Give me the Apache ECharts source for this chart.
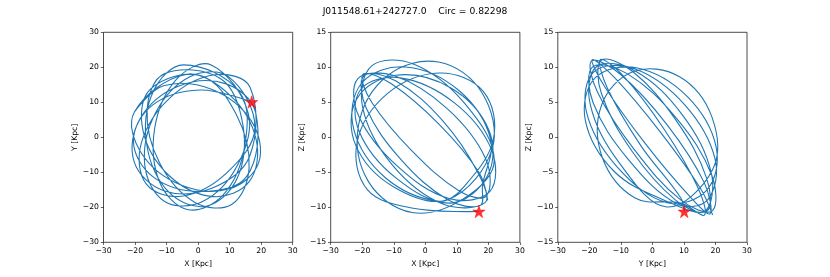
<!DOCTYPE html>
<html>
<head>
<meta charset="utf-8">
<script src="https://cdn.jsdelivr.net/npm/echarts@6/dist/echarts.min.js"></script>
<style>
html,body{margin:0;padding:0;background:#fff;}
#chart{width:830px;height:277px;}
</style>
</head>
<body>
<div id="chart"></div>
<script>
// ---- data ----
const titleText = 'J011548.61+242727.0    Circ = 0.82298';
const xTicks = [-30, -20, -10, 0, 10, 20, 30];
const zTicks = [-15, -10, -5, 0, 5, 10, 15];

// X-Y projection of the orbit [x, y] (kpc)
const orbitXY = [
  [16.9,10.1],[0.5,13.5],[-14.35,9.25],[-20.5,-1],[-14.35,-11.25],[0.5,-15.5],[15.35,-11.25],
  [18.27,7.01],[8.88,15.26],[-6.3,14.57],[-18.37,5.35],[-20.27,-7.01],[-10.88,-15.26],[4.3,-14.57],[16.37,-5.35],
  [16.47,14.32],[5.28,17.85],[-9,11.22],[-18.01,-1.69],[-16.47,-13.32],[-5.28,-16.85],[9,-10.22],[18.01,2.69],
  [9.75,17.25],[-2.44,17.35],[-13.49,7],[-16.93,-7.75],[-10.75,-18.25],[1.44,-18.35],[12.49,-8],[15.93,6.75],
  [4.15,20.69],[-7.02,16.41],[-13.78,2.52],[-12.18,-12.85],[-3.15,-20.69],[8.02,-16.41],[14.78,-2.52],[13.18,12.85],
  [-4.57,20.69],[-14.32,12.87],[-16.27,-2.2],[-9.27,-15.68],[2.57,-19.69],[12.32,-11.87],[14.27,3.2],[7.27,16.68],
  [-10.75,18.12],[-16.17,7.72],[-12.12,-7.5],[-0.97,-18.61],[10.75,-19.12],[16.17,-8.72],[12.12,6.5],[0.97,17.61],
  [-15.2,13.68],[-17.42,1.69],[-9.15,-10.99],[4.78,-16.94],[16.2,-12.68],[18.42,-0.69],[10.15,11.99],[-3.78,17.94],
  [-20.24,7.18],[-17.96,-4.56],[-5.46,-13.63],[9.95,-14.71],[19.24,-7.18],[16.96,4.56],[4.46,13.63],[-10.95,14.71],[-20.24,7.18]
];

// X-Z projection [x, z]
const orbitXZ = [
  [19.8,-9],[17,-5],[4.24,1.93],[-11,7.73],[-19.8,9],[-17,5],[-4.24,-1.93],[11,-7.73],
  [19.43,-8.36],[19.12,-3.05],[7.03,4.05],[-9.77,8.78],[-21.43,8.36],[-21.12,3.05],[-9.03,-4.05],[7.77,-8.78],
  [20.49,-7.74],[21.02,-1.8],[9.24,4.92],[-7.95,8.49],[-20.49,6.83],[-21.02,0.9],[-9.24,-5.83],[7.95,-9.4],
  [19.78,-5.45],[20.05,1.15],[8,7.09],[-9.33,8.87],[-21.78,5.45],[-22.05,-1.15],[-10,-7.09],[7.33,-8.87],
  [21.18,-1.7],[17.93,6.4],[4.18,10.75],[-12.02,8.8],[-21.18,1.7],[-17.93,-6.4],[-4.18,-10.75],[12.02,-8.8],
  [21.85,-3.34],[12.49,4.84],[-3.6,10.45],[-17,10.2],[-19.85,4.25],[-10.49,-3.93],[5.6,-9.54],[19,-9.3],
  [16.74,-5.09],[5.69,2.28],[-9.28,8.05],[-19.4,8.83],[-18.74,4.18],[-7.69,-3.19],[7.28,-8.95],[17.4,-9.74],
  [18.15,-6.85],[20.72,-0.28],[10.57,6.72],[-6.36,10.05],[-20.15,7.76],[-22.72,1.19],[-12.57,-5.81],[4.36,-9.14],
  [12.22,-7.07],[21.63,-0.17],[18.38,6.56],[4.36,9.18],[-12.22,6.16],[-21.63,-0.74],[-18.38,-7.47],[-4.36,-10.09],
  [17,-10.6]
];

// Y-Z projection [y, z]
const orbitYZ = [
  [19.1,-11.1],[15.17,-7.25],[2.36,0.84],[-11.84,8.45],[-19.1,11.1],[-15.17,7.25],[-2.36,-0.84],[11.84,-8.45],
  [18.29,-10.92],[16.4,-6.44],[4.62,1.82],[-10.16,9.01],[-19.29,10.92],[-17.4,6.44],[-5.62,-1.82],[9.16,-9.01],
  [18.97,-10.5],[18.83,-5.42],[7.66,2.7],[-8,9.1],[-18.97,10.05],[-18.83,4.97],[-7.66,-3.15],[8,-9.55],
  [17.56,-8.89],[19.88,-3.1],[10.27,4.64],[-5.65,9.79],[-18.56,9.35],[-20.88,3.55],[-11.27,-4.18],[4.65,-9.34],
  [17.18,-7.58],[20.25,-1.48],[11.17,5.76],[-4.75,9.89],[-18.18,8.49],[-21.25,2.39],[-12.17,-4.85],[3.75,-8.98],
  [17.15,-10.57],[17.19,-5.84],[7.46,2.45],[-6.35,9.43],[-16.15,11.02],[-16.19,6.29],[-6.46,-1.99],[7.35,-8.97],
  [16.66,-10.58],[18.7,-5.12],[9.49,3.2],[-5.57,9.51],[-17.66,10.12],[-19.7,4.67],[-10.49,-3.65],[4.57,-9.96],
  [19.11,-4.61],[18.89,2.88],[8.48,8.68],[-6.02,9.4],[-16.11,4.61],[-15.89,-2.88],[-5.48,-8.68],[9.02,-9.4],
  [16.49,-11.12],[14.3,-7.05],[3.73,1.15],[-9.02,8.67],[-16.49,11.12],[-14.3,7.05],[-3.73,-1.15],[9.02,-8.67],
  [10.1,-10.6]
];

// current position (red star) in each projection
const starXY = [17, 10.1];
const starXZ = [17, -10.6];
const starYZ = [10.1, -10.6];

const panelNames = [['X [Kpc]','Y [Kpc]'], ['X [Kpc]','Z [Kpc]'], ['Y [Kpc]','Z [Kpc]']];

// ---- chart ----
const FONT = 'DejaVu Sans';
const STAR = 'path://M50,0 L61.2,34.5 L97.6,34.5 L68.2,55.9 L79.4,90.5 L50,69.1 L20.6,90.5 L31.8,55.9 L2.4,34.5 L38.8,34.5 Z';
const lefts = [103.5, 330.7, 557.8];
const fmt = v => String(v).replace('-', '\u2212');

function axisCommon(ticks, name, gap) {
  return {
    type: 'value',
    min: ticks[0], max: ticks[ticks.length - 1], interval: ticks[1] - ticks[0],
    name: name, nameLocation: 'middle', nameGap: gap,
    nameTextStyle: {color: '#000', fontSize: 7.7, fontFamily: FONT},
    axisLine: {show: false, onZero: false},
    axisTick: {show: true, length: 2.7, lineStyle: {color: '#000', width: 0.6}},
    axisLabel: {show: true, color: '#000', fontSize: 7.7, fontFamily: FONT, margin: 4.5, formatter: fmt},
    splitLine: {show: false}
  };
}

const grids = lefts.map(l => ({
  left: l, top: 32.3, width: 189.2, height: 210,
  show: true, borderColor: '#000', borderWidth: 0.7, backgroundColor: 'transparent'
}));
const yTickSets = [xTicks, zTicks, zTicks];
const xAxes = [0,1,2].map(i => Object.assign(axisCommon(xTicks, panelNames[i][0], 15), {gridIndex: i, position: 'bottom'}));
const yAxes = [0,1,2].map(i => Object.assign(axisCommon(yTickSets[i], panelNames[i][1], 22), {gridIndex: i, position: 'left'}));

// orbit drawn as one smooth curve through the data points (converted by the axes)
function orbitRenderItem(params, api) {
  if (params.dataIndexInside !== 0) return null;
  const n = params.dataInsideLength;
  const pts = [];
  for (let j = 0; j < n; j++) {
    pts.push(api.coord([api.value(0, j), api.value(1, j)]));
  }
  return {
    type: 'polyline', silent: true,
    shape: {points: pts, smooth: 0.37},
    style: {fill: null, stroke: '#1f77b4', lineWidth: 1.1}
  };
}

const orbits = [orbitXY, orbitXZ, orbitYZ];
const stars = [starXY, starXZ, starYZ];
const series = [];
for (let i = 0; i < 3; i++) {
  series.push({
    type: 'custom', xAxisIndex: i, yAxisIndex: i, data: orbits[i],
    encode: {x: 0, y: 1}, renderItem: orbitRenderItem, z: 2
  });
  series.push({
    type: 'scatter', xAxisIndex: i, yAxisIndex: i, data: [stars[i]],
    symbol: STAR, symbolSize: 12.5, z: 5,
    itemStyle: {color: '#ff0000', borderColor: '#ff0000', borderWidth: 0.5}
  });
}

const chart = echarts.init(document.getElementById('chart'), null, {renderer: 'canvas'});
chart.setOption({
  animation: false,
  backgroundColor: '#fff',
  title: {
    text: titleText, left: 'center', top: 2,
    textStyle: {color: '#000', fontSize: 9.2, fontWeight: 'normal', fontFamily: FONT}
  },
  grid: grids,
  xAxis: xAxes,
  yAxis: yAxes,
  series: series
});
</script>
</body>
</html>
